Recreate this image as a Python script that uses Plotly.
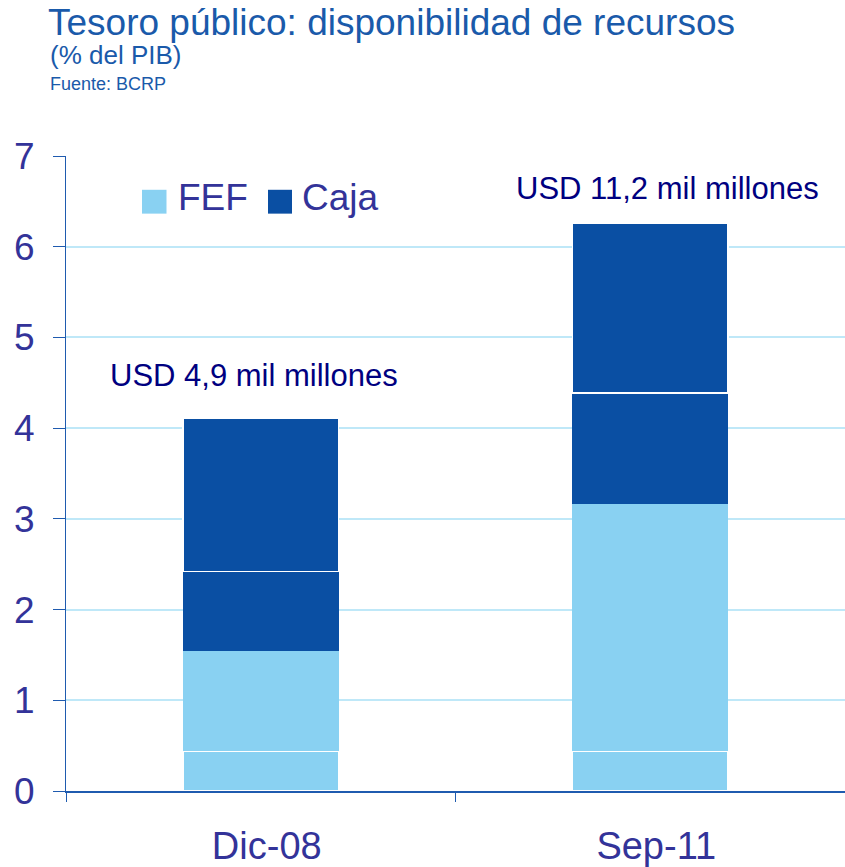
import plotly.graph_objects as go

categories = ["Dic-08", "Sep-11"]
fef_base = [0.44, 0.44]
fef_rest = [1.10, 2.72]
caja_low = [0.88, 1.23]
caja_high = [1.69, 1.87]
ytick_vals = [0, 1, 2, 3, 4, 5, 6, 7]
ytick_text = ["0", "1", "2", "3", "4", "5", "6", "7"]
totals_labels = ["USD 4,9 mil millones", "USD 11,2 mil millones"]
label_y = [4.58, 6.64]

FEF_C = "#89D1F2"
CAJA_C = "#0A4FA3"
TICK_C = "#333399"
AXIS_C = "#1F5BAF"
GRID_C = "#BFE8F8"
TITLE_C = "#1A5AAA"
FONT = "Liberation Sans, Arial, sans-serif"

W, H = 845, 867
L, R, T, B = 66, 0, 156, 72

fig = go.Figure()
fig.add_bar(x=categories, y=fef_base, marker=dict(color=FEF_C, line=dict(color="white", width=1.5)),
            width=0.4, showlegend=False, name="FEF")
fig.add_bar(x=categories, y=fef_rest, marker=dict(color=FEF_C, line=dict(width=0)),
            width=0.4, showlegend=False, name="FEF")
fig.add_bar(x=categories, y=caja_low, marker=dict(color=CAJA_C, line=dict(width=0)),
            width=0.4, showlegend=False, name="Caja")
fig.add_bar(x=categories, y=caja_high, marker=dict(color=CAJA_C, line=dict(color="white", width=1.5)),
            width=0.4, showlegend=False, name="Caja")

pw = W - L - R
ph = H - T - B
def px(x):
    return (x - L) / pw
def py(y):
    return (H - B - y) / ph

shapes = [
    dict(type="rect", xref="paper", yref="paper", x0=px(142), x1=px(166.5), y0=py(214), y1=py(190),
         fillcolor=FEF_C, line=dict(width=0)),
    dict(type="rect", xref="paper", yref="paper", x0=px(268), x1=px(292), y0=py(214), y1=py(190),
         fillcolor=CAJA_C, line=dict(width=0)),
]

annotations = [
    dict(text="(% del PIB)", xref="paper", yref="paper", x=px(48), y=py(54), xanchor="left", yanchor="middle",
         showarrow=False, font=dict(family=FONT, size=26, color=TITLE_C)),
    dict(text="Fuente: BCRP", xref="paper", yref="paper", x=px(48), y=py(84), xanchor="left", yanchor="middle",
         showarrow=False, font=dict(family=FONT, size=18, color=TITLE_C)),
    dict(text="FEF", xref="paper", yref="paper", x=px(176), y=py(198), xanchor="left", yanchor="middle",
         showarrow=False, font=dict(family=FONT, size=37, color=TICK_C)),
    dict(text="Caja", xref="paper", yref="paper", x=px(300), y=py(198), xanchor="left", yanchor="middle",
         showarrow=False, font=dict(family=FONT, size=37, color=TICK_C)),
]
for cat, lab, yv, xs in zip(categories, totals_labels, label_y, [-7, 17]):
    annotations.append(dict(text=lab, x=cat, y=yv, xref="x", yref="y", xshift=xs, showarrow=False,
                            xanchor="center", yanchor="middle",
                            font=dict(family=FONT, size=31, color="#000080")))

fig.update_layout(
    width=W, height=H,
    margin=dict(l=L, r=R, t=T, b=B),
    paper_bgcolor="white", plot_bgcolor="white",
    barmode="stack", bargap=0.6,
    title=dict(text="Tesoro público: disponibilidad de recursos", x=48 / W, xanchor="left",
               xref="container", yref="container", y=1 - 9 / H, yanchor="top",
               font=dict(family=FONT, size=37, color=TITLE_C)),
    shapes=shapes, annotations=annotations,
    xaxis=dict(type="category", tickson="boundaries", ticks="outside", ticklen=9, tickcolor=AXIS_C,
               showline=True, linecolor=AXIS_C, linewidth=1.5, showgrid=False,
               tickfont=dict(family=FONT, size=38, color=TICK_C), ticklabelstandoff=21,
               ticklabelshift=6),
    yaxis=dict(range=[0, 7], tickvals=ytick_vals, ticktext=ytick_text, ticks="outside", ticklen=12,
               tickcolor=AXIS_C, showline=True, linecolor=AXIS_C, linewidth=1, gridcolor=GRID_C,
               gridwidth=1.5, zeroline=False, tickfont=dict(family=FONT, size=37, color=TICK_C),
               ticklabelstandoff=11),
    showlegend=False,
)

fig.write_html("out.html", config={"displayModeBar": False},
               post_script="document.body.style.margin='0';document.body.style.overflow='hidden';")
